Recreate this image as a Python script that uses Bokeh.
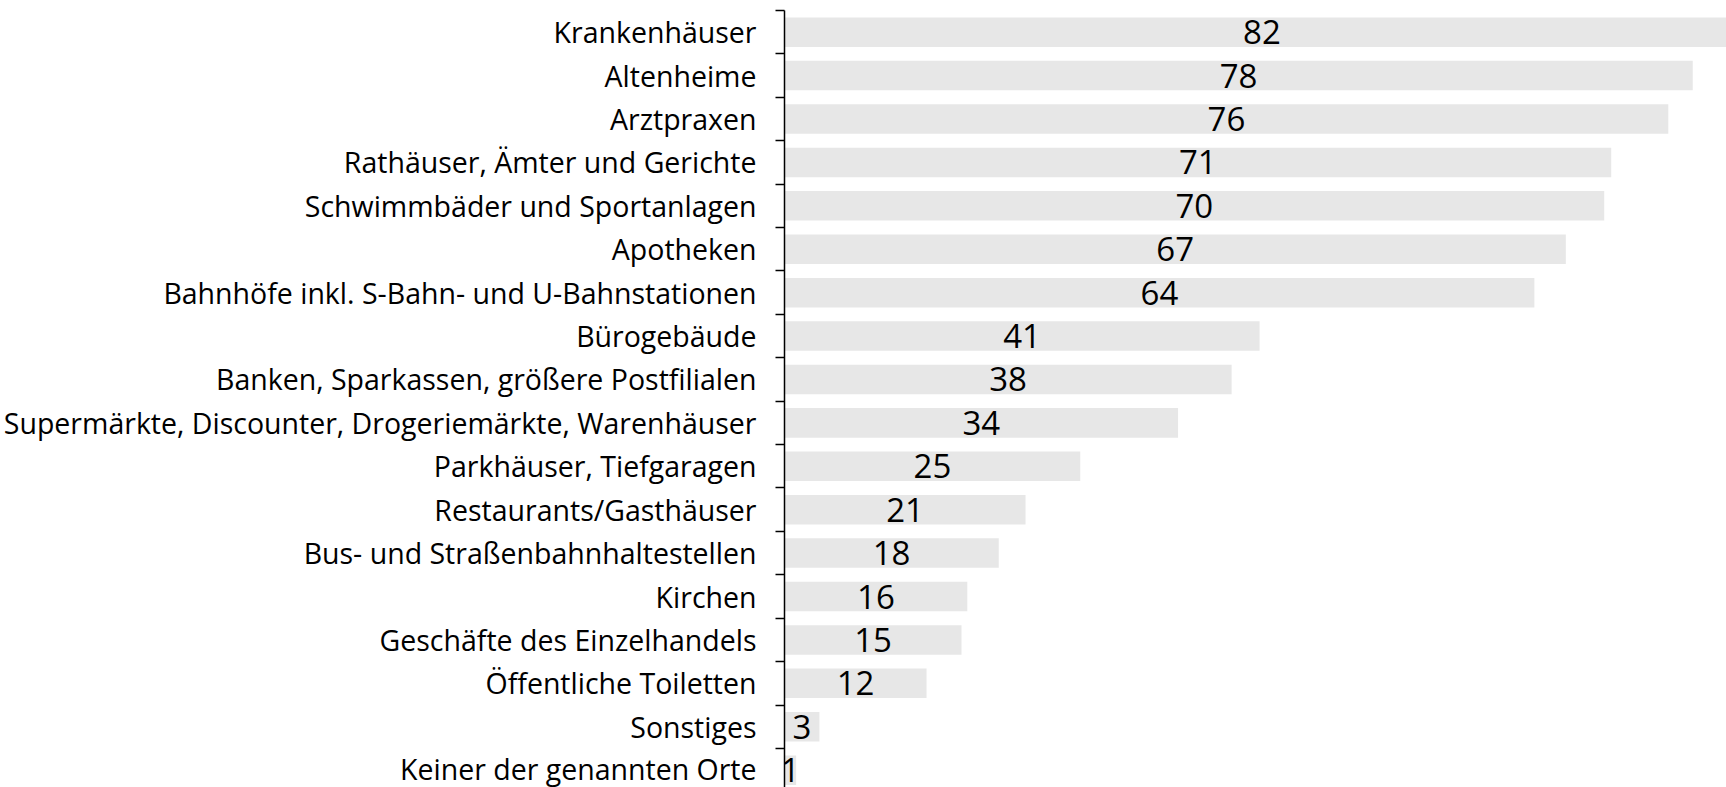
from bokeh.plotting import figure
from bokeh.models import ColumnDataSource, Range1d, FixedTicker
from bokeh.core.properties import value
from bokeh.embed import file_html
from bokeh.resources import INLINE

categories = [
    "Krankenhäuser",
    "Altenheime",
    "Arztpraxen",
    "Rathäuser, Ämter und Gerichte",
    "Schwimmbäder und Sportanlagen",
    "Apotheken",
    "Bahnhöfe inkl. S-Bahn- und U-Bahnstationen",
    "Bürogebäude",
    "Banken, Sparkassen, größere Postfilialen",
    "Supermärkte, Discounter, Drogeriemärkte, Warenhäuser",
    "Parkhäuser, Tiefgaragen",
    "Restaurants/Gasthäuser",
    "Bus- und Straßenbahnhaltestellen",
    "Kirchen",
    "Geschäfte des Einzelhandels",
    "Öffentliche Toiletten",
    "Sonstiges",
    "Keiner der genannten Orte",
]
# bar lengths (percent)
values = [82.0, 78.0, 75.9, 71.0, 70.4, 67.1, 64.4, 40.8, 38.4, 33.8, 25.4, 20.7, 18.4, 15.7, 15.2, 12.2, 3.0, 1.0]
# printed labels
labels = ["82", "78", "76", "71", "70", "67", "64", "41", "38", "34", "25", "21", "18", "16", "15", "12", "3", "1"]

pos = list(range(len(categories)))
src = ColumnDataSource(dict(
    y=pos,
    v=values,
    mid=[v / 2 for v in values],
    lab=labels,
))

p = figure(width=1726, height=787, output_backend="svg", toolbar_location=None,
           x_range=Range1d(0, 80.9), y_range=Range1d(17.4, -0.5),
           min_border_left=783, min_border_top=10, min_border_bottom=0,
           min_border_right=0, outline_line_color=None)
p.xaxis.visible = False
p.xgrid.visible = False
p.ygrid.visible = False
p.background_fill_color = "white"
p.border_fill_color = "white"

p.hbar(y="y", left=0, right="v", height=0.68, source=src,
       fill_color="#e7e7e7", line_color=None)
p.text(x="mid", y="y", text="lab", source=src, text_align="center",
       text_baseline="middle", text_font=value("Open Sans"),
       text_font_size="33px", text_color="black")

ax = p.yaxis[0]
ax.ticker = FixedTicker(ticks=pos, minor_ticks=[i - 0.5 for i in range(len(categories) + 1)])
ax.major_label_overrides = {i: c for i, c in enumerate(categories)}
ax.major_tick_out = 0
ax.major_tick_in = 0
ax.minor_tick_out = 9
ax.minor_tick_in = 0
ax.minor_tick_line_color = "black"
ax.minor_tick_line_width = 1.5
ax.axis_line_color = "black"
ax.axis_line_width = 1.5
ax.major_label_standoff = 19
ax.major_label_text_font = "Open Sans"
ax.major_label_text_font_size = "28.5px"
ax.major_label_text_color = "black"

open("out.html", "w").write(file_html(p, INLINE))
